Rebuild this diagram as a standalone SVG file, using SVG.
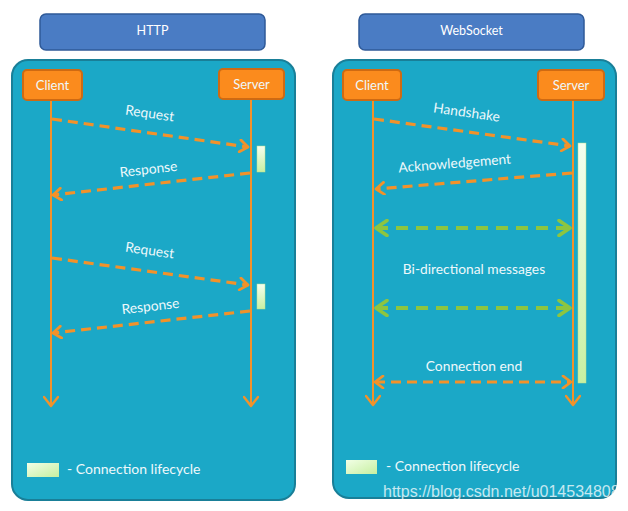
<svg xmlns="http://www.w3.org/2000/svg" width="628" height="511" viewBox="0 0 628 511">
<defs>
<style>
.hdr{fill:#4a7cc4;stroke:#2f5a98;stroke-width:1.5}
.panel{fill:#1ba8c7;stroke:#197f98;stroke-width:2}
.actor{fill:#fb8b1d;stroke:#cf6a12;stroke-width:2}
.life{stroke:#f2922a;stroke-width:2;fill:none}
.msg{stroke:#f2922a;stroke-width:3.2;stroke-dasharray:10 6;fill:none}
.bi{stroke:#8dc540;stroke-width:4;stroke-dasharray:12 8;fill:none}
.t{font-family:Lato,"Open Sans",sans-serif;font-size:13.8px;fill:#eef8fb;text-anchor:middle}
.ta{font-family:Lato,"Open Sans",sans-serif;font-size:13px;fill:#eef8fb;text-anchor:middle}
.tl{font-family:Lato,"Open Sans",sans-serif;font-size:14px;fill:#eef8fb}
.ht{font-family:Lato,"Open Sans",sans-serif;font-size:12.5px;fill:#ffffff;text-anchor:middle}
.bar{fill:url(#g);stroke:#b9e08f;stroke-width:0.5}
</style>
<linearGradient id="g" x1="0" y1="0" x2="0" y2="1">
<stop offset="0" stop-color="#f6fff0"/>
<stop offset="1" stop-color="#c8f0a2"/>
</linearGradient>
<linearGradient id="gh" x1="0" y1="0" x2="1" y2="1">
<stop offset="0" stop-color="#f2ffe6"/>
<stop offset="1" stop-color="#c6efa0"/>
</linearGradient>
<marker id="ao" markerUnits="userSpaceOnUse" markerWidth="14" markerHeight="14" refX="10" refY="7" orient="auto-start-reverse" viewBox="0 0 14 14">
<path d="M2,1 L10,7 L2,13" fill="none" stroke="#f2922a" stroke-width="2.8" stroke-linecap="round" stroke-linejoin="round"/>
</marker>
<marker id="ag" markerUnits="userSpaceOnUse" markerWidth="18" markerHeight="18" refX="13" refY="9" orient="auto-start-reverse" viewBox="0 0 18 18">
<path d="M2,1.5 L13,9 L2,16.5" fill="none" stroke="#8dc540" stroke-width="3.6" stroke-linecap="round" stroke-linejoin="round"/>
</marker>
<marker id="al" markerUnits="userSpaceOnUse" markerWidth="16" markerHeight="16" refX="11" refY="8" orient="auto" viewBox="0 0 16 16">
<path d="M2,1 L11,8 L2,15" fill="none" stroke="#f2922a" stroke-width="2.4" stroke-linecap="round" stroke-linejoin="round"/>
</marker>
</defs>

<g id="http-header"><rect class="hdr" x="40" y="14" width="225" height="36" rx="6"/><text class="ht" x="152.5" y="35">HTTP</text></g>
<g id="ws-header"><rect class="hdr" x="359" y="14" width="225" height="36" rx="6"/><text class="ht" x="471.5" y="35">WebSocket</text></g>

<g id="http-panel"><rect class="panel" x="12" y="60" width="283" height="440" rx="16"/></g>
<g id="ws-panel"><rect class="panel" x="333" y="60" width="283" height="438" rx="16"/></g>

<g id="connectors">
<line class="life" x1="51" y1="100" x2="51" y2="406" marker-end="url(#al)"/>
<line class="life" x1="251" y1="100" x2="251" y2="406" marker-end="url(#al)"/>
<line class="life" x1="373" y1="100" x2="373" y2="405" marker-end="url(#al)"/>
<line class="life" x1="573" y1="100" x2="573" y2="405" marker-end="url(#al)"/>

<line class="msg" x1="52" y1="119" x2="248" y2="147" marker-end="url(#ao)"/>
<line class="msg" x1="250" y1="173" x2="53" y2="195" marker-end="url(#ao)"/>
<line class="msg" x1="52" y1="258" x2="248" y2="285" marker-end="url(#ao)"/>
<line class="msg" x1="250" y1="311" x2="53" y2="333" marker-end="url(#ao)"/>

<line class="msg" x1="374" y1="119" x2="570" y2="146" marker-end="url(#ao)"/>
<line class="msg" x1="572" y1="173" x2="376" y2="189" marker-end="url(#ao)"/>
<line class="bi" x1="376" y1="228" x2="570" y2="228" marker-start="url(#ag)" marker-end="url(#ag)"/>
<line class="bi" x1="376" y1="308" x2="570" y2="308" marker-start="url(#ag)" marker-end="url(#ag)"/>
<line class="msg" x1="375" y1="382" x2="571" y2="382" marker-start="url(#ao)" marker-end="url(#ao)"/>
</g>

<g id="http-client"><rect class="actor" x="23" y="70" width="59" height="30" rx="4"/><text class="ta" x="52.5" y="89.5">Client</text></g>
<g id="http-server"><rect class="actor" x="219" y="69" width="65" height="30" rx="4"/><text class="ta" x="251.5" y="88.5">Server</text></g>
<g id="ws-client"><rect class="actor" x="343" y="70" width="58" height="30" rx="4"/><text class="ta" x="372" y="89.5">Client</text></g>
<g id="ws-server"><rect class="actor" x="538" y="70" width="66" height="30" rx="4"/><text class="ta" x="571" y="89.5">Server</text></g>

<g id="bars">
<rect class="bar" x="257" y="146" width="8" height="26"/>
<rect class="bar" x="257" y="284" width="8" height="25"/>
<rect class="bar" x="578" y="143" width="8" height="240"/>
</g>

<g id="labels">
<text class="t" transform="translate(149,118) rotate(8)">Request</text>
<text class="t" transform="translate(149,174) rotate(-6.5)">Response</text>
<text class="t" transform="translate(149,255) rotate(8)">Request</text>
<text class="t" transform="translate(151,311) rotate(-6.5)">Response</text>
<text class="t" transform="translate(466,117) rotate(8)">Handshake</text>
<text class="t" transform="translate(455,168) rotate(-4.5)">Acknowledgement</text>
<text class="t" x="474" y="274">Bi-directional messages</text>
<text class="t" x="474" y="371">Connection end</text>
</g>

<g id="http-legend"><rect x="27" y="463" width="32" height="14" fill="url(#gh)"/><text class="tl" x="67" y="474">- Connection lifecycle</text></g>
<g id="ws-legend"><rect x="346" y="460" width="31" height="14" fill="url(#gh)"/><text class="tl" x="386" y="471">- Connection lifecycle</text></g>

<text x="383" y="497" font-family="Liberation Sans, Arial, sans-serif" font-size="16" fill="#ffffff" fill-opacity="0.75">https://blog.csdn.net/u014534808</text>
</svg>
